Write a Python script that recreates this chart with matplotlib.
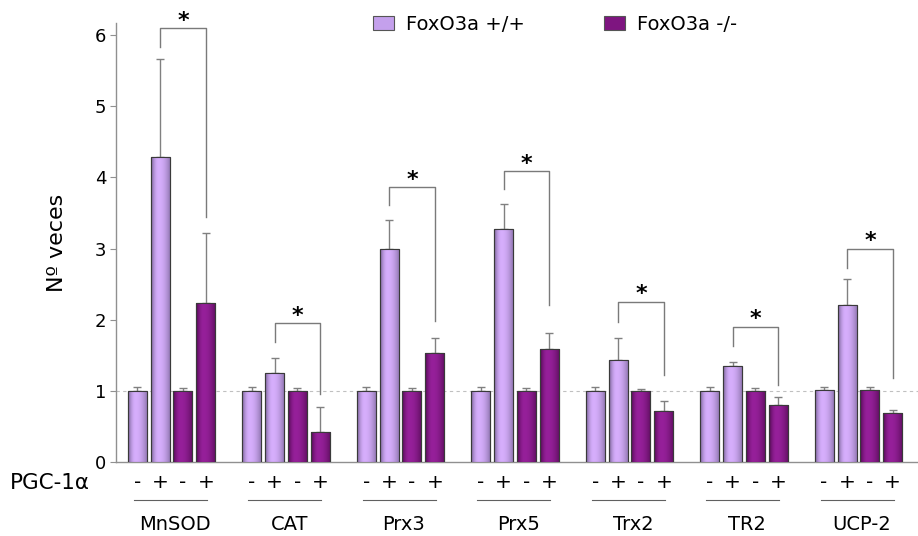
import numpy as np
import matplotlib
matplotlib.use("Agg")
import matplotlib.pyplot as plt
from matplotlib.patches import Patch
from matplotlib.colors import to_rgb
import matplotlib.transforms as mtransforms

# ---------------- data ----------------
genes = ["MnSOD", "CAT", "Prx3", "Prx5", "Trx2", "TR2", "UCP-2"]
signs = ["-", "+", "-", "+"]
series_names = ["FoxO3a +/+", "FoxO3a -/-"]

wt_minus = [1.00, 1.00, 1.00, 1.00, 1.00, 1.00, 1.01]
wt_plus = [4.28, 1.25, 2.99, 3.27, 1.43, 1.35, 2.21]
ko_minus = [1.00, 1.00, 1.00, 1.00, 1.00, 1.00, 1.01]
ko_plus = [2.24, 0.42, 1.53, 1.59, 0.72, 0.80, 0.69]

wt_minus_err = [0.05, 0.05, 0.05, 0.05, 0.05, 0.05, 0.05]
wt_plus_err = [1.38, 0.21, 0.41, 0.35, 0.31, 0.05, 0.36]
ko_minus_err = [0.04, 0.04, 0.04, 0.04, 0.03, 0.04, 0.05]
ko_plus_err = [0.98, 0.35, 0.21, 0.22, 0.14, 0.11, 0.04]

# significance brackets (wt + vs ko +)
bracket_top = [6.10, 1.95, 3.86, 4.09, 2.25, 1.90, 3.00]
bracket_left_end = [5.83, 1.68, 3.61, 3.83, 1.97, 1.63, 2.72]
bracket_right_end = [3.44, 0.96, 1.98, 2.20, 1.22, 1.08, 1.18]

yticks = [0, 1, 2, 3, 4, 5, 6]

# ---------------- style ----------------
W, H = 918, 536
fig = plt.figure(figsize=(W / 100, H / 100), dpi=100)
ax = fig.add_axes([116 / W, 1 - 462 / H, 1 - 116 / W, (462 - 23) / H])

lav_light, lav_dark = to_rgb("#D6AEFC"), to_rgb("#6F5B8C")
pur_light, pur_dark = to_rgb("#96209A"), to_rgb("#4A0849")

step = 0.2
width = 0.166
offsets = [-1.5 * step, -0.5 * step, 0.5 * step, 1.5 * step]
values = [wt_minus, wt_plus, ko_minus, ko_plus]
errs = [wt_minus_err, wt_plus_err, ko_minus_err, ko_plus_err]
colors = [(lav_light, lav_dark), (lav_light, lav_dark),
          (pur_light, pur_dark), (pur_light, pur_dark)]

x = np.arange(len(genes))
xmin, xmax = -0.4847, 6.52
ymin, ymax = 0, 6.17

t = np.linspace(0, 1, 64)
peak = 0.38
dark = np.where(t < peak, ((peak - t) / peak) ** 2 * 0.95,
                ((t - peak) / (1 - peak)) ** 2 * 0.75)


def gradient(light, darkc):
    l = np.array(light)
    d = np.array(darkc)
    g = l[None, :] * (1 - dark[:, None]) + d[None, :] * dark[:, None]
    return g[None, :, :]


for vals, er, off, (cl, cd) in zip(values, errs, offsets, colors):
    bars = ax.bar(x + off, vals, width=width, color=cl, edgecolor="#3a3a3a",
                  linewidth=0.8, zorder=3)
    img = gradient(cl, cd)
    for b in bars:
        bx, by, bw, bh = b.get_x(), b.get_y(), b.get_width(), b.get_height()
        im = ax.imshow(img, extent=[bx, bx + bw, by, by + bh], aspect="auto",
                       interpolation="bilinear", zorder=3.1)
        im.set_clip_path(b)
        outline = plt.Rectangle((bx, by), bw, bh, fill=False,
                                edgecolor="#3a3a3a", linewidth=0.8, zorder=3.2)
        ax.add_patch(outline)
    ax.errorbar(x + off, vals, yerr=[np.zeros(len(vals)), er], fmt="none",
                ecolor="#808080", elinewidth=1.0, capsize=3, capthick=1.0,
                zorder=2.5)

# brackets
for i in range(len(genes)):
    xl = x[i] + offsets[1]
    xr = x[i] + offsets[3]
    ax.plot([xl, xl, xr, xr],
            [bracket_left_end[i], bracket_top[i], bracket_top[i], bracket_right_end[i]],
            color="#7a7a7a", linewidth=1.0, zorder=2)
    ax.text((xl + xr) / 2, bracket_top[i] + 0.02, "*", ha="center", va="baseline",
            fontsize=16, fontweight="bold", color="black", clip_on=False)

# dashed reference line
ax.axhline(1.0, color="#c0c0c0", linestyle=(0, (3, 3)), linewidth=0.8, zorder=1)

ax.set_xlim(xmin, xmax)
ax.set_ylim(ymin, ymax)
ax.set_yticks(yticks)
ax.set_yticklabels([str(v) for v in yticks], fontsize=13)
ax.set_xticks([])
for s in ["top", "right"]:
    ax.spines[s].set_visible(False)
for s in ["left", "bottom"]:
    ax.spines[s].set_color("#909090")
    ax.spines[s].set_linewidth(1.0)
ax.tick_params(axis="y", colors="#909090", labelcolor="black", length=4, pad=3)
ax.set_ylabel("Nº veces", fontsize=16, labelpad=20)

# x annotations
trans = mtransforms.blended_transform_factory(ax.transData, ax.transAxes)
for i, g in enumerate(genes):
    for off, s in zip(offsets, signs):
        ax.text(x[i] + off, -0.047, s, transform=trans, ha="center", va="center",
                fontsize=14.5, clip_on=False)
    ax.plot([x[i] + offsets[0] - 0.03, x[i] + offsets[3] + 0.01], [-0.087, -0.087],
            transform=trans, color="#606060", linewidth=0.8, clip_on=False)
    ax.text(x[i] + 0.03, -0.143, g, transform=trans, ha="center", va="center",
            fontsize=14, clip_on=False)
fig.text(10 / W, 1 - 483 / H, "PGC-1α", ha="left", va="center", fontsize=15.5)

# legend
handles = [Patch(facecolor="#C4A0EC", edgecolor="#555555", linewidth=0.8),
           Patch(facecolor="#7E1580", edgecolor="#555555", linewidth=0.8)]
fig.legend(handles, series_names, loc="center left",
           bbox_to_anchor=(365 / W, 1 - 24 / H), ncol=2, frameon=False,
           fontsize=14, handlelength=1.1, handleheight=0.75,
           handletextpad=0.6, columnspacing=4.07, borderaxespad=0)

fig.savefig("out.png", dpi=100)
